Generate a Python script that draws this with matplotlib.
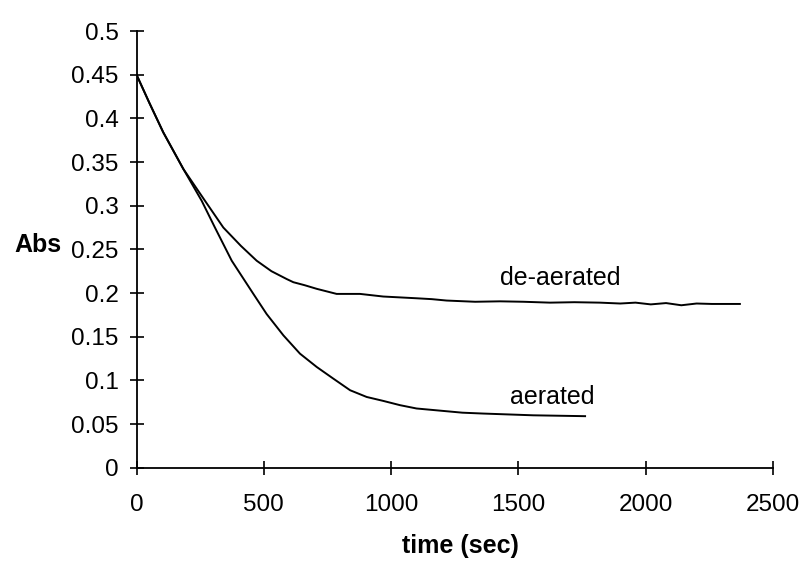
import numpy as np
import matplotlib.pyplot as plt

plt.rcParams['font.family'] = ['Liberation Sans', 'DejaVu Sans']

# de-aerated run (time in sec, absorbance)
t_deaer = [0, 50, 105, 184, 269, 341, 410, 472, 530, 590, 616, 660, 708, 786, 878,
           969, 1035, 1100, 1160, 1218, 1330, 1428, 1520, 1624, 1720, 1820, 1900,
           1960, 2020, 2080, 2140, 2200, 2260, 2320, 2370]
a_deaer = [0.450, 0.418, 0.384, 0.342, 0.3056, 0.275, 0.254, 0.237, 0.225, 0.216,
           0.2124, 0.209, 0.2048, 0.199, 0.199, 0.196, 0.195, 0.194, 0.193, 0.1914,
           0.190, 0.1905, 0.190, 0.189, 0.1895, 0.189, 0.188, 0.189, 0.187, 0.1885,
           0.186, 0.188, 0.1875, 0.1875, 0.1875]

# aerated run
t_aer = [0, 50, 105, 184, 256, 308, 374, 459, 511, 577, 642, 708, 773, 839,
         904, 969, 1035, 1100, 1205, 1280, 1362, 1460, 1558, 1660, 1762]
a_aer = [0.450, 0.418, 0.384, 0.342, 0.3056, 0.275, 0.237, 0.199, 0.176,
         0.1515, 0.1306, 0.1153, 0.102, 0.0887, 0.081, 0.0765, 0.0716, 0.0678,
         0.065, 0.063, 0.062, 0.061, 0.060, 0.0595, 0.059]

xticks = [0, 500, 1000, 1500, 2000, 2500]
yticks = [0, 0.05, 0.1, 0.15, 0.2, 0.25, 0.3, 0.35, 0.4, 0.45, 0.5]
ytick_labels = ['0', '0.05', '0.1', '0.15', '0.2', '0.25', '0.3', '0.35', '0.4', '0.45', '0.5']

fig = plt.figure(figsize=(8.04, 5.61), dpi=100)
ax = fig.add_axes([0.1698, 0.1663, 0.7916, 0.7784])

ax.plot(t_deaer, a_deaer, color='black', lw=1.4)
ax.plot(t_aer, a_aer, color='black', lw=1.4)

ax.set_xlim(0, 2500)
ax.set_ylim(0, 0.5)
ax.set_xticks(xticks)
ax.set_yticks(yticks)
ax.set_yticklabels(ytick_labels)

for s in ['top', 'right']:
    ax.spines[s].set_visible(False)
for s in ['left', 'bottom']:
    ax.spines[s].set_linewidth(1.3)

ax.tick_params(axis='both', direction='inout', length=10, width=1.2, labelsize=17.5)
ax.tick_params(axis='x', pad=14)
ax.tick_params(axis='y', pad=8)

ax.text(1663, 0.2177, 'de-aerated', fontsize=18, ha='center', va='center')
ax.text(1632, 0.0807, 'aerated', fontsize=18, ha='center', va='center')

fig.text(460 / 804, 1 - 546 / 561, 'time (sec)', fontsize=18, fontweight='bold',
         ha='center', va='center')
fig.text(38 / 804, 1 - 245 / 561, 'Abs', fontsize=18, fontweight='bold',
         ha='center', va='center')

fig.savefig('out.png', dpi=100)
